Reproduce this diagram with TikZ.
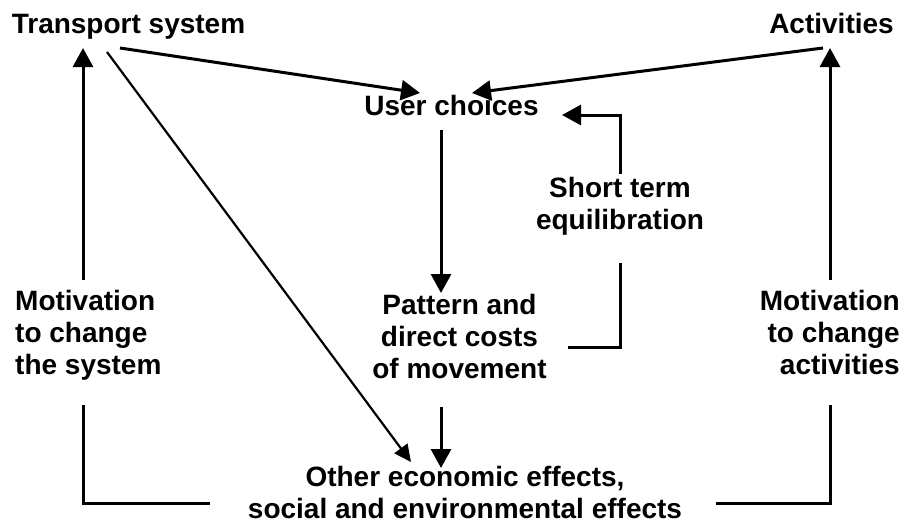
\documentclass[tikz,border=0pt]{standalone}
\usepackage{fontspec}
\setmainfont{Liberation Sans}
\usetikzlibrary{arrows.meta}
\tikzset{
  lbl/.style={font=\fontsize{28}{32}\selectfont\bfseries, inner sep=0pt, anchor=base, align=center},
  thickline/.style={line width=3pt},
  thinline/.style={line width=2.2pt},
  bigtip/.style={-{Triangle[length=19pt,width=20pt]}},
  smalltip/.style={-{Triangle[length=17pt,width=16pt]}}
}
\begin{document}
\begin{tikzpicture}[x=1pt,y=-1pt]
\useasboundingbox[fill=white] (0,0) rectangle (904,525);
% text nodes (base = baseline of the last line)
\node[lbl] (ts) at (128.5,33) {Transport system};
\node[lbl] (act) at (831.5,33) {Activities};
\node[lbl] (uc) at (451.5,115) {User choices};
\node[lbl] (st) at (620,229) {Short term\\equilibration};
\node[lbl] (pat) at (459.5,378) {Pattern and\\direct costs\\of movement};
\node[lbl, anchor=base west, align=left] (ml) at (15,374) {Motivation\\to change\\the system};
\node[lbl, anchor=base east, align=right] (mr) at (900,374) {Motivation\\to change\\activities};
\node[lbl] (oe) at (465,518) {Other economic effects,\\social and environmental effects};
% connector end points
\coordinate (tsA) at (120,48);
\coordinate (tsB) at (107,52);
\coordinate (tsC) at (83,48);
\coordinate (actA) at (823,48);
\coordinate (actB) at (830,48);
\coordinate (ucL) at (420,93);
\coordinate (ucR) at (472,93);
\coordinate (ucD) at (441,130);
\coordinate (ucE) at (562,115);
\coordinate (stT) at (620,174);
\coordinate (stB) at (620,263);
\coordinate (patT) at (441,293);
\coordinate (patB) at (441,407);
\coordinate (patR) at (568,347);
\coordinate (oeT) at (441,468);
\coordinate (oeD) at (411,462);
\coordinate (oeL) at (210,503);
\coordinate (oeR) at (716,503);
\coordinate (mlT) at (83,280);
\coordinate (mlB) at (83,405);
\coordinate (mrT) at (830,280);
\coordinate (mrB) at (830,405);
% connectors
\draw[thickline, bigtip] (tsA) -- (ucL);
\draw[thickline, bigtip] (actA) -- (ucR);
\draw[thinline, smalltip] (tsB) -- (oeD);
\draw[thickline, bigtip] (ucD) -- (patT);
\draw[thickline, bigtip] (patB) -- (oeT);
\draw[thickline] (patR) -| (stB);
\draw[thickline, bigtip] (stT) |- (ucE);
\draw[thickline, bigtip] (mlT) -- (tsC);
\draw[thickline] (oeL) -| (mlB);
\draw[thickline, bigtip] (mrT) -- (actB);
\draw[thickline] (oeR) -| (mrB);
\end{tikzpicture}
\end{document}
